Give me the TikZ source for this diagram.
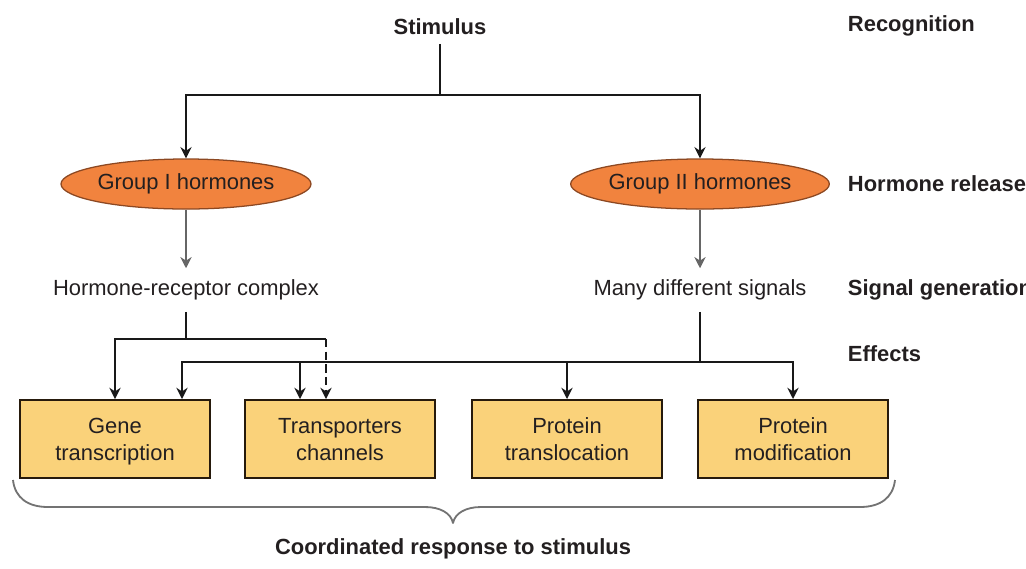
\documentclass[tikz,border=0pt]{standalone}
\usepackage{fontspec}
\setmainfont{Liberation Sans}
\usepackage{tikz}
\usetikzlibrary{shapes.geometric, arrows.meta, positioning, calc}
\definecolor{hormorange}{RGB}{241,131,62}
\definecolor{hormedge}{RGB}{140,72,34}
\definecolor{effectfill}{RGB}{250,210,122}
\definecolor{effectedge}{RGB}{38,26,12}
\definecolor{inktext}{RGB}{35,31,32}

\begin{document}
\begin{tikzpicture}[x=0.025cm, y=-0.025cm,
  every node/.style={font=\fontsize{15.6}{19.2}\selectfont, text=inktext},
  stage/.style={font=\fontsize{15.6}{19.2}\selectfont\bfseries, anchor=west},
  hormone/.style={ellipse, draw=hormedge, line width=0.9pt, fill=hormorange, minimum width=5.95cm, minimum height=1.25cm, inner sep=0pt},
  effect/.style={draw=effectedge, line width=1.4pt, fill=effectfill, minimum width=4.75cm, minimum height=1.95cm, align=center, text depth=0pt},
  signal/.style={inner sep=8pt},
  conn/.style={draw=black!90, line width=1.7pt},
  tip/.style={-{Stealth[length=8pt,width=8pt]}},
  greyarrow/.style={draw=black!60, line width=1.2pt, -{Stealth[length=8pt,width=8pt]}}]
\useasboundingbox (0,0) rectangle (1026,568);

\node[font=\fontsize{15.6}{19.2}\selectfont\bfseries, inner sep=6pt] (stim) at (440,27) {Stimulus};
\node[hormone] (g1) at (186,184) {Group I hormones};
\node[hormone, minimum width=6cm] (g2) at (700,184) {Group II hormones};
\node[signal] (hrc) at (186,290) {Hormone-receptor complex};
\node[signal] (mds) at (700,290) {Many different signals};

\node[effect] (gene) at (115,439) {Gene\\transcription};
\node[effect] (trans) at (340,439) {Transporters\\channels};
\node[effect] (transl) at (567,439) {Protein\\translocation};
\node[effect] (modif) at (793,439) {Protein\\modification};

\node[stage] (recog) at (843,26) {Recognition};
\node[stage] (release) at (843,184) {Hormone release};
\node[stage] (gener) at (843,290) {Signal generation};
\node[stage] (effects) at (843,354) {Effects};

\coordinate (split) at (440,95);
\draw[conn] (stim) -- (split);
\draw[conn, tip] (split) -| (g1);
\draw[conn, tip] (split) -| (g2);

\draw[greyarrow] (g1) -- (hrc);
\draw[greyarrow] (g2) -- (mds);

\coordinate (hrcjoin) at (186,339);
\coordinate (hrcdash) at (326,339);
\draw[conn] (hrc) -- (hrcjoin);
\draw[conn, tip] (hrcjoin) -| (gene);
\draw[conn] (hrcjoin) -- (hrcdash);

\coordinate (mdsjoin) at (700,362);
\coordinate (genetap) at (182,362);
\coordinate (transtap) at (300,362);
\draw[conn] (mds) -- (mdsjoin);
\draw[conn, tip] (mdsjoin) -| (gene.north -| genetap);
\draw[conn, tip] (transtap) -- (transtap |- trans.north);
\draw[conn, tip] (mdsjoin) -| (transl);
\draw[conn, tip] (mdsjoin) -| (modif);
\draw[conn, tip, dashed, dash pattern=on 6pt off 3pt] (hrcdash) -- (hrcdash |- trans.north);

\coordinate (braceL) at (13,480);
\coordinate (braceR) at (895,480);
\coordinate (braceTip) at (453,523);
\draw[black!55, line width=1.3pt, line join=round]
  (braceL) .. controls (15,498) and (28,507) .. (48,507) -- (425,507)
  .. controls (440,507) and (451,513) .. (braceTip)
  .. controls (455,513) and (466,507) .. (481,507) -- (860,507)
  .. controls (880,507) and (893,498) .. (braceR);
\node[font=\fontsize{15.6}{19.2}\selectfont\bfseries] (coord) at (453,549) {Coordinated response to stimulus};
\end{tikzpicture}
\end{document}
